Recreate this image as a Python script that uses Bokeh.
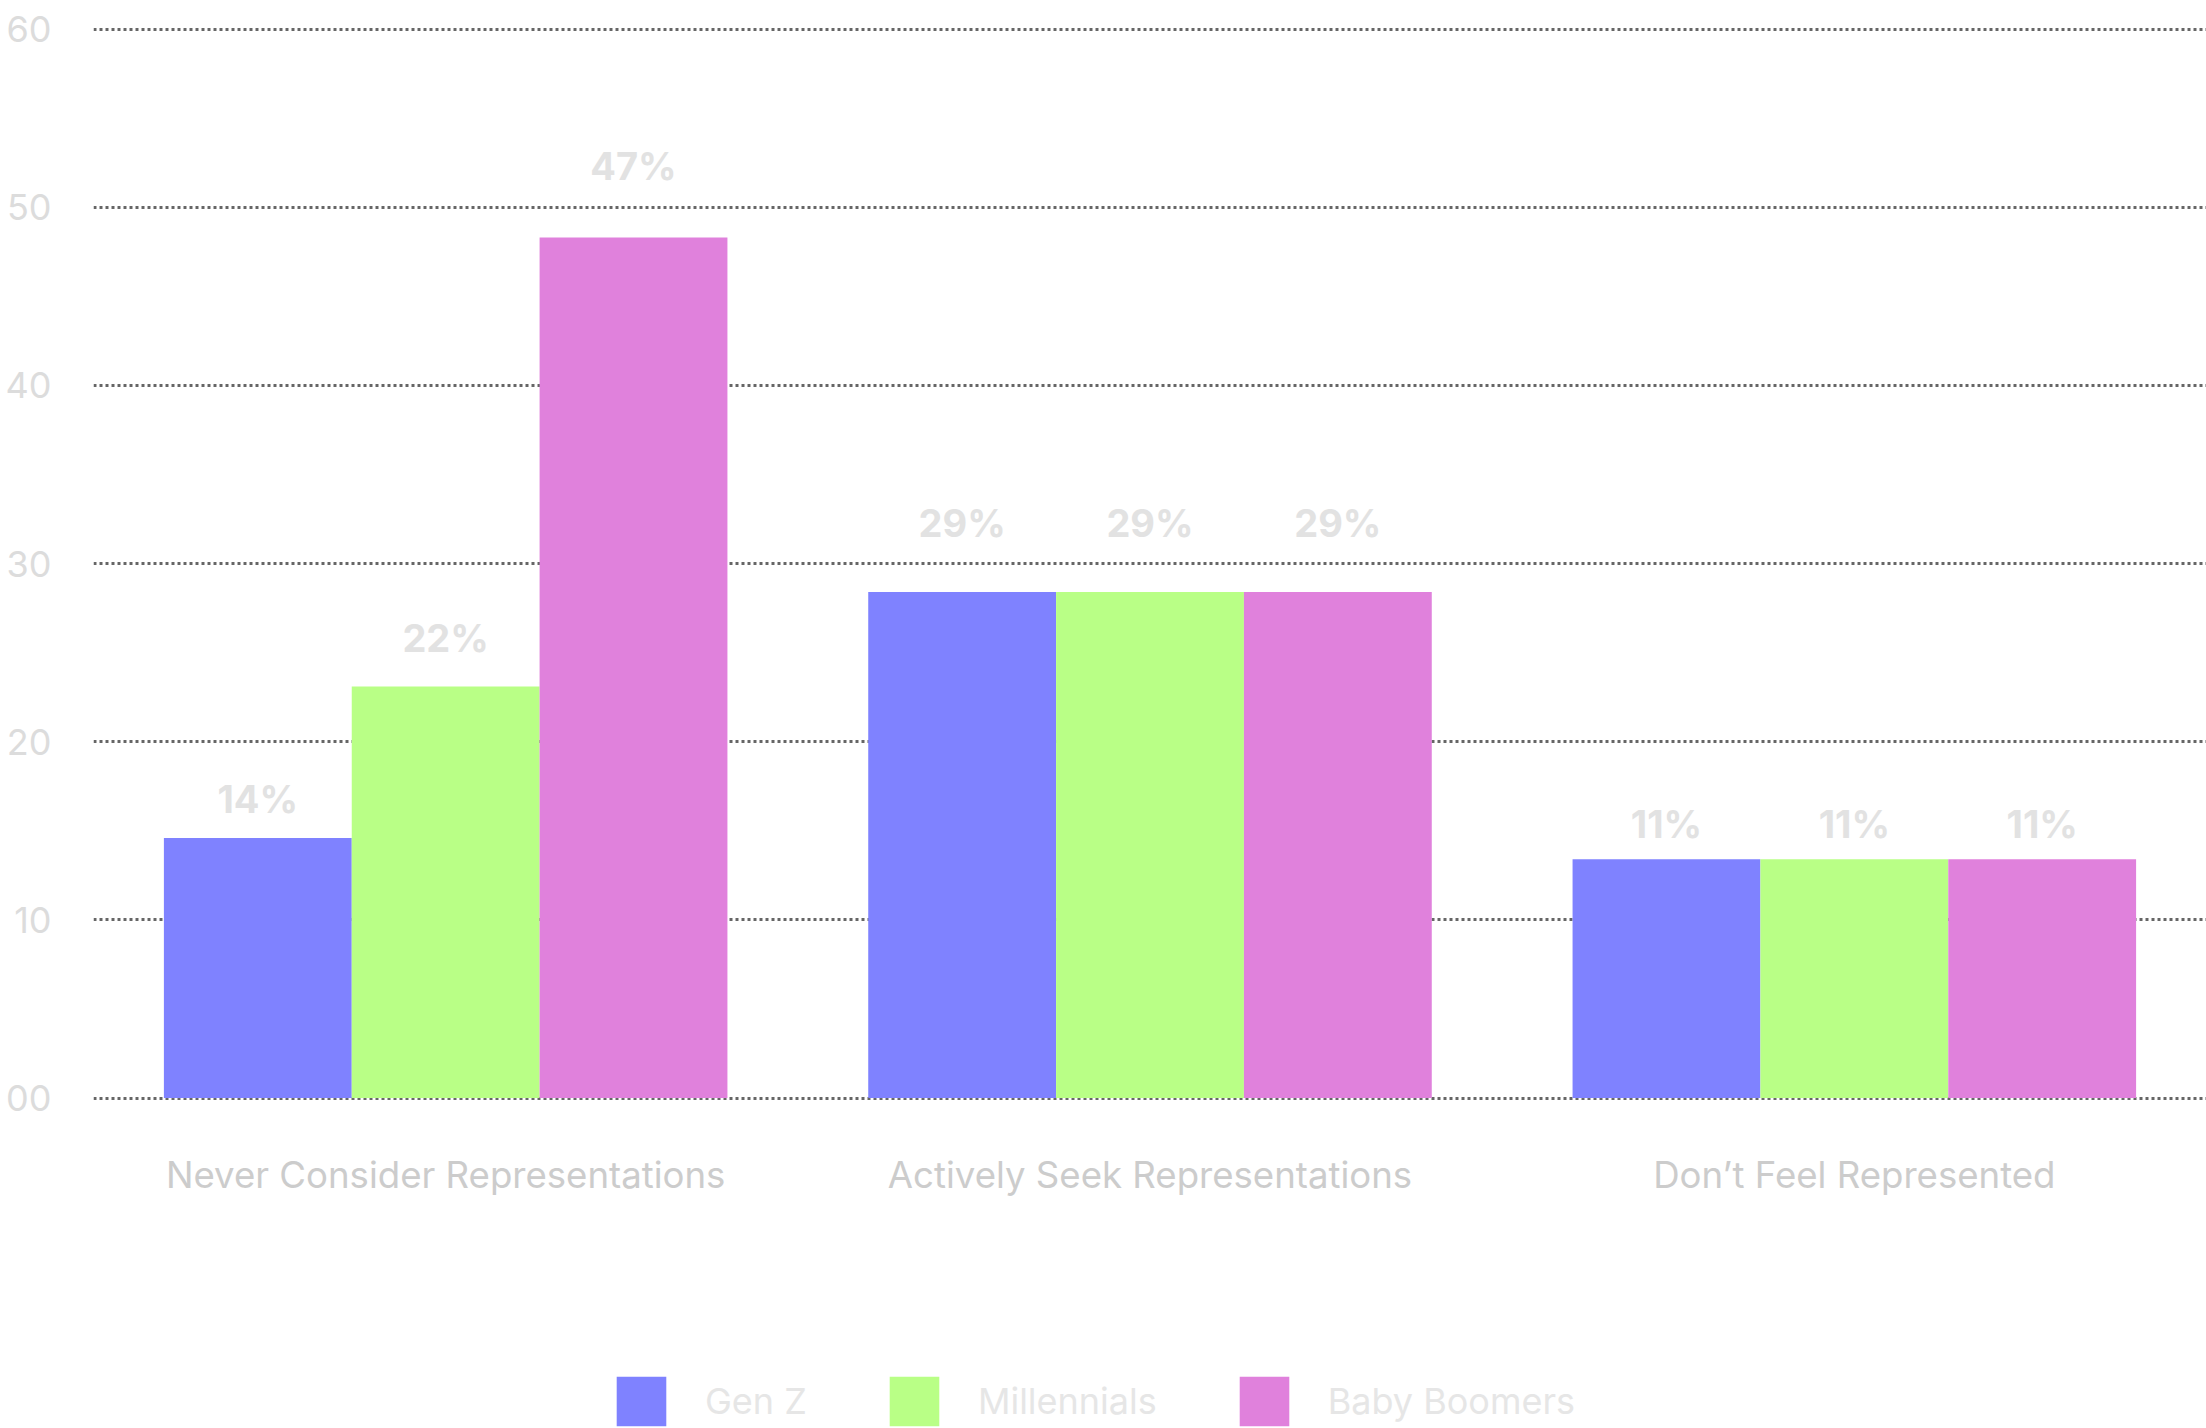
from bokeh.plotting import figure
from bokeh.models import FactorRange, Range1d, Legend, LegendItem, ColumnDataSource, FixedTicker
from bokeh.transform import dodge
from bokeh.core.properties import value
from bokeh.embed import file_html
from bokeh.resources import INLINE

# ---- data ----
categories = ["Never Consider Representations", "Actively Seek Representations", "Don\u2019t Feel Represented"]
series_names = ["Gen Z", "Millennials", "Baby Boomers"]

gen_z = [14.6, 28.4, 13.4]
millennials = [23.1, 28.4, 13.4]
baby_boomers = [48.3, 28.4, 13.4]

gen_z_labels = ["14%", "29%", "11%"]
millennials_labels = ["22%", "29%", "11%"]
baby_boomers_labels = ["47%", "29%", "11%"]

gen_z_label_y = [16.8, 32.3, 15.4]
millennials_label_y = [25.8, 32.3, 15.4]
baby_boomers_label_y = [52.3, 32.3, 15.4]

y_ticks = [0, 10, 20, 30, 40, 50, 60]
y_tick_labels = ["00", "10", "20", "30", "40", "50", "60"]

colors = ["#7f82ff", "#b9ff86", "#e081dc"]

source = ColumnDataSource(dict(
    cat=categories,
    zero=[0] * len(categories),
    genz=gen_z, mill=millennials, boom=baby_boomers,
    genz_lab=gen_z_labels, mill_lab=millennials_labels, boom_lab=baby_boomers_labels,
    genz_ly=gen_z_label_y, mill_ly=millennials_label_y, boom_ly=baby_boomers_label_y,
))

FONT = "Inter"
BW = 0.2667

p = figure(
    width=2206, height=1428,
    x_range=FactorRange(factors=categories, range_padding=0),
    y_range=Range1d(-18.55, 61.6),
    x_axis_location=None,
    output_backend="svg", toolbar_location=None,
    min_border_left=93, min_border_right=0, min_border_top=0, min_border_bottom=0,
)
p.outline_line_color = None
p.background_fill_color = "white"
p.border_fill_color = "white"

# grid
p.xgrid.grid_line_color = None
p.ygrid.ticker = FixedTicker(ticks=y_ticks)
p.ygrid.grid_line_color = "#666666"
p.ygrid.grid_line_width = 3
p.ygrid.grid_line_dash = "3 3"

# y axis
p.yaxis.ticker = FixedTicker(ticks=y_ticks)
p.yaxis.major_label_overrides = {t: l for t, l in zip(y_ticks, y_tick_labels)}
p.yaxis.axis_line_color = None
p.yaxis.major_tick_line_color = None
p.yaxis.minor_tick_line_color = None
p.yaxis.major_tick_out = 0
p.yaxis.major_tick_in = 0
p.yaxis.major_label_standoff = 42
p.yaxis.major_label_text_font = FONT
p.yaxis.major_label_text_font_size = "36px"
p.yaxis.major_label_text_color = "#dcdcdc"

# bars and value labels
cols = ["genz", "mill", "boom"]
offsets = [-BW, 0.0, BW]
renderers = []
for col, off, c in zip(cols, offsets, colors):
    r = p.vbar(x=dodge("cat", off, range=p.x_range), top=col, width=BW, source=source,
               fill_color=c, line_color=None)
    renderers.append(r)
    p.text(x=dodge("cat", off, range=p.x_range), y=col + "_ly", text=col + "_lab", source=source,
           text_font=value(FONT), text_font_style="bold", text_font_size="38px",
           text_color="#e2e2e2", text_align="center", text_baseline="middle")

# category labels under the baseline
p.text(x="cat", y="zero", text="cat", source=source, y_offset=77,
       text_font=value(FONT), text_font_size="36.6px", text_color="#cccccc",
       text_align="center", text_baseline="middle")

legend = Legend(
    items=[LegendItem(label=n, renderers=[r]) for n, r in zip(series_names, renderers)],
    orientation="horizontal",
    location=(517, -4),
    glyph_width=62, glyph_height=62,
    label_text_font=FONT, label_text_font_size="36px", label_text_color="#e6e6e6",
    label_standoff=33, spacing=76,
    padding=0, margin=0,
    border_line_color=None, background_fill_alpha=0,
)
p.add_layout(legend, "center")

open("out.html", "w").write(file_html(p, INLINE))
